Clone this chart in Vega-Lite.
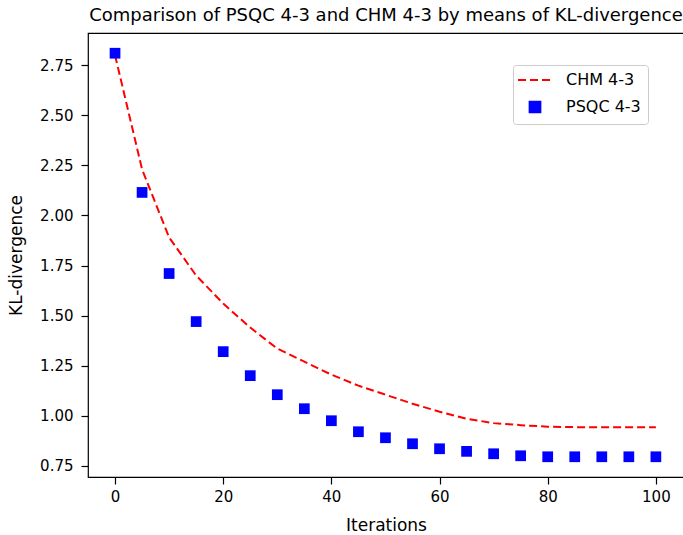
{
  "$schema": "https://vega.github.io/schema/vega-lite/v6.json",
  "width": 596,
  "height": 444,
  "autosize": {"type": "none"},
  "padding": {"left": 88, "top": 33, "right": 0, "bottom": 58},
  "background": "white",
  "config": {
    "view": {"stroke": "#000", "strokeWidth": 1.2},
    "font": "DejaVu Sans",
    "axis": {
      "grid": false,
      "domain": false,
      "tickColor": "#000",
      "tickSize": 7,
      "tickWidth": 1.2,
      "labelColor": "#000",
      "labelFont": "DejaVu Sans",
      "labelFontSize": 15,
      "titleColor": "#000",
      "titleFont": "DejaVu Sans",
      "titleFontSize": 17,
      "titleFontWeight": "normal"
    },
    "title": {"font": "DejaVu Sans", "fontSize": 18, "fontWeight": "normal", "color": "#000", "offset": 8}
  },
  "title": {"text": "Comparison of PSQC 4-3 and CHM 4-3 by means of KL-divergence", "anchor": "middle"},
  "data": {
    "values": [
      {"iter": 0, "value": 2.80, "series": "CHM 4-3"},
      {"iter": 5, "value": 2.23, "series": "CHM 4-3"},
      {"iter": 10, "value": 1.89, "series": "CHM 4-3"},
      {"iter": 15, "value": 1.70, "series": "CHM 4-3"},
      {"iter": 20, "value": 1.56, "series": "CHM 4-3"},
      {"iter": 25, "value": 1.44, "series": "CHM 4-3"},
      {"iter": 30, "value": 1.335, "series": "CHM 4-3"},
      {"iter": 35, "value": 1.27, "series": "CHM 4-3"},
      {"iter": 40, "value": 1.205, "series": "CHM 4-3"},
      {"iter": 45, "value": 1.15, "series": "CHM 4-3"},
      {"iter": 50, "value": 1.105, "series": "CHM 4-3"},
      {"iter": 55, "value": 1.06, "series": "CHM 4-3"},
      {"iter": 60, "value": 1.02, "series": "CHM 4-3"},
      {"iter": 65, "value": 0.985, "series": "CHM 4-3"},
      {"iter": 70, "value": 0.963, "series": "CHM 4-3"},
      {"iter": 75, "value": 0.953, "series": "CHM 4-3"},
      {"iter": 80, "value": 0.945, "series": "CHM 4-3"},
      {"iter": 85, "value": 0.943, "series": "CHM 4-3"},
      {"iter": 90, "value": 0.943, "series": "CHM 4-3"},
      {"iter": 95, "value": 0.943, "series": "CHM 4-3"},
      {"iter": 100, "value": 0.943, "series": "CHM 4-3"},
      {"iter": 0, "value": 2.81, "series": "PSQC 4-3"},
      {"iter": 5, "value": 2.115, "series": "PSQC 4-3"},
      {"iter": 10, "value": 1.71, "series": "PSQC 4-3"},
      {"iter": 15, "value": 1.47, "series": "PSQC 4-3"},
      {"iter": 20, "value": 1.32, "series": "PSQC 4-3"},
      {"iter": 25, "value": 1.20, "series": "PSQC 4-3"},
      {"iter": 30, "value": 1.105, "series": "PSQC 4-3"},
      {"iter": 35, "value": 1.035, "series": "PSQC 4-3"},
      {"iter": 40, "value": 0.975, "series": "PSQC 4-3"},
      {"iter": 45, "value": 0.92, "series": "PSQC 4-3"},
      {"iter": 50, "value": 0.89, "series": "PSQC 4-3"},
      {"iter": 55, "value": 0.86, "series": "PSQC 4-3"},
      {"iter": 60, "value": 0.835, "series": "PSQC 4-3"},
      {"iter": 65, "value": 0.822, "series": "PSQC 4-3"},
      {"iter": 70, "value": 0.81, "series": "PSQC 4-3"},
      {"iter": 75, "value": 0.80, "series": "PSQC 4-3"},
      {"iter": 80, "value": 0.795, "series": "PSQC 4-3"},
      {"iter": 85, "value": 0.795, "series": "PSQC 4-3"},
      {"iter": 90, "value": 0.795, "series": "PSQC 4-3"},
      {"iter": 95, "value": 0.795, "series": "PSQC 4-3"},
      {"iter": 100, "value": 0.795, "series": "PSQC 4-3"}
    ]
  },
  "encoding": {
    "x": {
      "field": "iter", "type": "quantitative",
      "scale": {"domain": [-5, 105.2], "nice": false, "zero": false},
      "axis": {"values": [0, 20, 40, 60, 80, 100], "title": "Iterations", "labelPadding": 5, "titlePadding": 13}
    },
    "y": {
      "field": "value", "type": "quantitative",
      "scale": {"domain": [0.694, 2.911], "nice": false, "zero": false},
      "axis": {"values": [0.75, 1.0, 1.25, 1.5, 1.75, 2.0, 2.25, 2.5, 2.75], "format": ".2f", "title": "KL-divergence", "labelPadding": 8, "titlePadding": 14}
    },
    "color": {
      "field": "series", "type": "nominal",
      "scale": {"domain": ["CHM 4-3", "PSQC 4-3"], "range": ["#ff0000", "#0000ff"]},
      "legend": {
        "title": null,
        "orient": "none",
        "legendX": 425,
        "legendY": 32,
        "padding": 7,
        "strokeColor": "#cccccc",
        "fillColor": "white",
        "cornerRadius": 3,
        "labelFont": "DejaVu Sans",
        "labelFontSize": 16,
        "labelColor": "#000",
        "symbolSize": 400,
        "symbolOffset": 7,
        "labelOffset": 23,
        "rowPadding": 9,
        "encode": {
          "symbols": {
            "update": {
              "shape": {"signal": "datum.value === 'CHM 4-3' ? 'stroke' : 'square'"},
              "size": {"signal": "datum.value === 'CHM 4-3' ? 1156 : 115"},
              "fill": {"signal": "datum.value === 'CHM 4-3' ? 'transparent' : '#0000ff'"},
              "stroke": {"signal": "datum.value === 'CHM 4-3' ? '#ff0000' : 'transparent'"},
              "strokeDash": {"signal": "datum.value === 'CHM 4-3' ? [8, 4] : [1, 0]"},
              "strokeWidth": {"value": 2},
              "opacity": {"value": 1}
            }
          }
        }
      }
    }
  },
  "layer": [
    {
      "transform": [{"filter": "datum.series === 'CHM 4-3'"}],
      "mark": {"type": "line", "strokeDash": [8, 4], "strokeWidth": 2}
    },
    {
      "transform": [{"filter": "datum.series === 'PSQC 4-3'"}],
      "mark": {"type": "point", "shape": "square", "filled": true, "size": 115, "opacity": 1}
    }
  ]
}
